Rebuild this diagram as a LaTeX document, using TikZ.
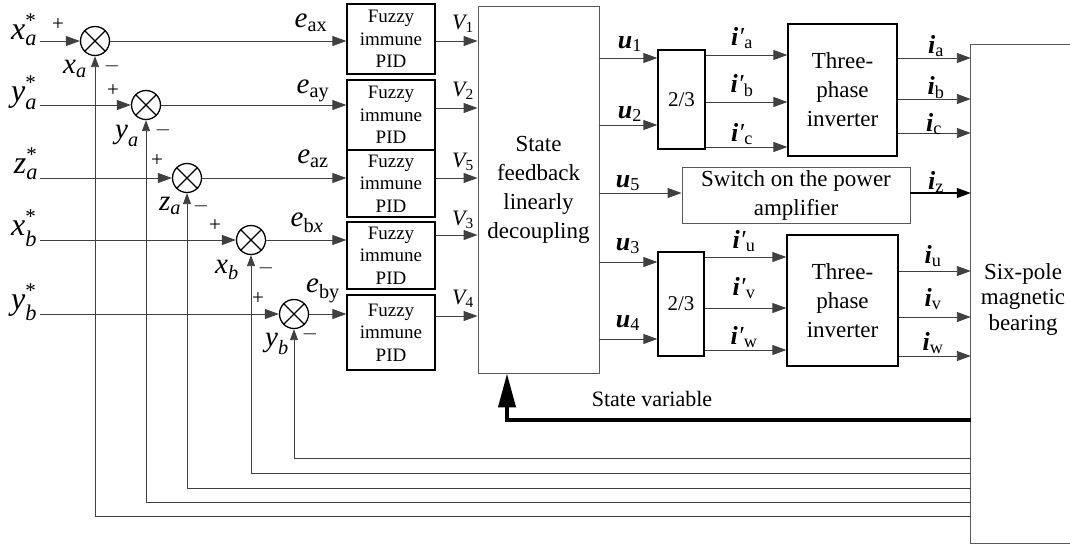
\documentclass[tikz,border=0pt]{standalone}
\usepackage{fontspec}
\usepackage{amsmath}
\setmainfont{Liberation Serif}
\usetikzlibrary{arrows.meta,calc}
\newcommand{\mi}[1]{\textit{#1}}
\newcommand{\bi}[1]{\textbf{\textit{#1}}}
\newcommand{\st}{\raisebox{3pt}{\fontsize{21}{21}\selectfont *}}
\begin{document}
\begin{tikzpicture}[x=1pt,y=-1pt,
  line/.style={draw=black!75, line width=0.9pt},
  arr/.style={line, -{Triangle[length=14pt,width=10pt]}},
  farr/.style={line, -{Triangle[length=11pt,width=8pt]}},
  blk/.style={draw=black, line width=1.3pt, inner sep=0pt, align=center},
  gblk/.style={draw=black!65, line width=0.9pt, inner sep=0pt, align=center},
  fz/.style={blk, minimum width=88pt, font=\fontsize{19}{22.5}\selectfont},
  big/.style={font=\fontsize{23}{29}\selectfont, align=center, inner sep=0pt},
  sumn/.style={circle, draw=black, line width=1.3pt, minimum size=29pt, inner sep=0pt},
  inl/.style={font=\fontsize{32}{32}\selectfont, inner sep=0pt},
  fbl/.style={font=\fontsize{29}{29}\selectfont, inner sep=0pt},
  el/.style={font=\fontsize{29}{29}\selectfont, inner sep=0pt},
  vl/.style={font=\fontsize{22}{22}\selectfont, inner sep=0pt},
  ul/.style={font=\fontsize{26}{26}\selectfont, inner sep=0pt},
  pm/.style={font=\fontsize{21}{21}\selectfont, inner sep=0pt}]
\useasboundingbox (0,0) rectangle (1070,544);

% summing junctions
\node[sumn] (s1) at (95,41) {};
\node[sumn] (s2) at (146,105) {};
\node[sumn] (s3) at (187,178) {};
\node[sumn] (s4) at (251,240) {};
\node[sumn] (s5) at (294,314) {};
\foreach \s in {s1,s2,s3,s4,s5}{
  \draw[line width=1.1pt] (\s.north west) -- (\s.south east) (\s.north east) -- (\s.south west);
}

% input labels and starts
\node[inl] (lx1) at (24,30) {$\mi{x}_{\mi{a}}^{\st}$};
\node[inl] (ly1) at (24,93) {$\mi{y}_{\mi{a}}^{\st}$};
\node[inl] (lz1) at (26,164) {$\mi{z}_{\mi{a}}^{\st}$};
\node[inl] (lx2) at (24,228) {$\mi{x}_{\mi{b}}^{\st}$};
\node[inl] (ly2) at (24,302) {$\mi{y}_{\mi{b}}^{\st}$};
\coordinate (i1) at (40,41);
\coordinate (i2) at (40,105);
\coordinate (i3) at (40,178);
\coordinate (i4) at (40,240);
\coordinate (i5) at (40,314);
\draw[arr] (i1) -- (s1.west);
\draw[arr] (i2) -- (s2.west);
\draw[arr] (i3) -- (s3.west);
\draw[arr] (i4) -- (s4.west);
\draw[arr] (i5) -- (s5.west);

% plus / minus
\node[pm] (p1) at (58,25) {+};
\node[pm] (m1) at (112,66) {$-$};
\node[pm] (p2) at (113,91) {+};
\node[pm] (m2) at (163,130) {$-$};
\node[pm] (p3) at (157,161) {+};
\node[pm] (m3) at (201,206) {$-$};
\node[pm] (p4) at (215,226) {+};
\node[pm] (m4) at (266,268) {$-$};
\node[pm] (p5) at (258,299) {+};
\node[pm] (m5) at (310,334) {$-$};

% feedback labels
\node[fbl] (fx1) at (75,69) {$\mi{x}_{\mi{a}}$};
\node[fbl] (fy1) at (127,136) {$\mi{y}_{\mi{a}}$};
\node[fbl] (fz1) at (170,206) {$\mi{z}_{\mi{a}}$};
\node[fbl] (fx2) at (227,270) {$\mi{x}_{\mi{b}}$};
\node[fbl] (fy2) at (277,344) {$\mi{y}_{\mi{b}}$};

% fuzzy blocks
\node[fz, minimum height=70pt] (F1) at (391,39) {Fuzzy\\immune\\PID};
\node[fz, minimum height=70pt] (F2) at (391,115) {Fuzzy\\immune\\PID};
\node[fz, minimum height=67pt] (F3) at (391,183.5) {Fuzzy\\immune\\PID};
\node[fz, minimum height=67pt] (F4) at (391,255.5) {Fuzzy\\immune\\PID};
\node[fz, minimum height=75pt] (F5) at (391,332.5) {Fuzzy\\immune\\PID};

\draw[arr] (s1.east) -- (s1.east -| F1.west);
\draw[arr] (s2.east) -- (s2.east -| F2.west);
\draw[arr] (s3.east) -- (s3.east -| F3.west);
\draw[arr] (s4.east) -- (s4.east -| F4.west);
\draw[arr] (s5.east) -- (s5.east -| F5.west);

\node[el] (e1) at (311,23) {$\mi{e}_{\text{ax}}$};
\node[el] (e2) at (313,91) {$\mi{e}_{\text{ay}}$};
\node[el] (e3) at (313,159) {$\mi{e}_{\text{az}}$};
\node[el] (e4) at (307,223) {$\mi{e}_{\text{b\mi{x}}}$};
\node[el] (e5) at (323,291) {$\mi{e}_{\text{by}}$};

% state feedback block
\node[gblk, big, minimum width=121pt, minimum height=367pt] (SF) at (538.5,189.5) {State\\feedback\\linearly\\decoupling};

\draw[arr] (F1.east |- 0,41) -- (SF.west |- 0,41);
\draw[arr] (F2.east |- 0,108) -- (SF.west |- 0,108);
\draw[arr] (F3.east |- 0,178) -- (SF.west |- 0,178);
\draw[arr] (F4.east |- 0,235) -- (SF.west |- 0,235);
\draw[arr] (F5.east |- 0,316) -- (SF.west |- 0,316);

\node[vl] (v1) at (463,24) {$\mi{V}_{\text{1}}$};
\node[vl] (v2) at (463,91) {$\mi{V}_{\text{2}}$};
\node[vl] (v5) at (463,162) {$\mi{V}_{\text{5}}$};
\node[vl] (v3) at (463,220) {$\mi{V}_{\text{3}}$};
\node[vl] (v4) at (463,299) {$\mi{V}_{\text{4}}$};

% right side blocks
\node[blk, font=\fontsize{21}{21}\selectfont, minimum width=47pt, minimum height=99pt] (C1) at (681.5,99.5) {2/3};
\node[blk, font=\fontsize{21}{21}\selectfont, minimum width=46pt, minimum height=104pt] (C2) at (681,304) {2/3};
\node[blk, big, minimum width=109pt, minimum height=132pt] (I1) at (842.5,90) {Three-\\phase\\inverter};
\node[blk, big, minimum width=111pt, minimum height=131pt] (I2) at (842.5,300.5) {Three-\\phase\\inverter};
\node[gblk, big, minimum width=228pt, minimum height=56pt] (SW) at (796,195) {Switch on the power\\amplifier};
\node[minimum width=99pt, minimum height=498pt, inner sep=0pt] (MB) at (1020.5,294) {};
\draw[draw=black!65, line width=0.9pt] (MB.north east) -- (MB.north west) -- (MB.south west) -- (MB.south east);
\node[font=\fontsize{23}{25.5}\selectfont, align=center, inner sep=0pt] (MBt) at (1023,299) {Six-pole\\magnetic\\bearing};

% u signals
\draw[arr] (SF.east |- 0,58) -- (C1.west |- 0,58);
\draw[arr] (SF.east |- 0,125) -- (C1.west |- 0,125);
\draw[arr] (SF.east |- 0,193) -- (SW.west |- 0,193);
\draw[arr] (SF.east |- 0,262) -- (C2.west |- 0,262);
\draw[arr] (SF.east |- 0,339) -- (C2.west |- 0,339);
\node[ul] (u1) at (630,44) {$\bi{u}_{\text{1}}$};
\node[ul] (u2) at (630,114) {$\bi{u}_{\text{2}}$};
\node[ul] (u5) at (628,183) {$\bi{u}_{\text{5}}$};
\node[ul] (u3) at (628,246) {$\bi{u}_{\text{3}}$};
\node[ul] (u4) at (628,323) {$\bi{u}_{\text{4}}$};

% i' signals
\draw[arr] (C1.east |- 0,55) -- (I1.west |- 0,55);
\draw[arr] (C1.east |- 0,102) -- (I1.west |- 0,102);
\draw[arr] (C1.east |- 0,147) -- (I1.west |- 0,147);
\draw[arr] (C2.east |- 0,257) -- (I2.west |- 0,257);
\draw[arr] (C2.east |- 0,308) -- (I2.west |- 0,308);
\draw[arr] (C2.east |- 0,350) -- (I2.west |- 0,350);
\node[ul] (ia1) at (742,38) {\bi{i}\mi{′}$_{\text{a}}$};
\node[ul] (ib1) at (742,86) {\bi{i}\mi{′}$_{\text{b}}$};
\node[ul] (ic1) at (742,134) {\bi{i}\mi{′}$_{\text{c}}$};
\node[ul] (iu1) at (744,241) {\bi{i}\mi{′}$_{\text{u}}$};
\node[ul] (iv1) at (744,288) {\bi{i}\mi{′}$_{\text{v}}$};
\node[ul] (iw1) at (744,337) {\bi{i}\mi{′}$_{\text{w}}$};

% i signals
\draw[arr] (I1.east |- 0,58) -- (MB.west |- 0,58);
\draw[arr] (I1.east |- 0,99) -- (MB.west |- 0,99);
\draw[arr] (I1.east |- 0,133) -- (MB.west |- 0,133);
\draw[arr, line width=1.3pt, draw=black] (SW.east |- 0,193) -- (MB.west |- 0,193);
\draw[arr] (I2.east |- 0,271) -- (MB.west |- 0,271);
\draw[arr] (I2.east |- 0,317) -- (MB.west |- 0,317);
\draw[arr] (I2.east |- 0,356) -- (MB.west |- 0,356);
\node[ul] (ia) at (936,46) {$\bi{i}_{\text{a}}$};
\node[ul] (ib) at (936,88) {$\bi{i}_{\text{b}}$};
\node[ul] (ic) at (934,124) {$\bi{i}_{\text{c}}$};
\node[ul] (iz) at (936,182) {$\bi{i}_{\text{z}}$};
\node[ul] (iu) at (933,256) {$\bi{i}_{\text{u}}$};
\node[ul] (iv) at (933,299) {$\bi{i}_{\text{v}}$};
\node[ul] (iw) at (933,343) {$\bi{i}_{\text{w}}$};

% state variable feedback
\draw[draw=black, line width=4pt, -{Triangle[length=34pt,width=17pt]}] (MB.west |- 0,420) -| (SF.south -| 507,0);
\node[font=\fontsize{22}{22}\selectfont, inner sep=0pt] (svl) at (652,399) {State variable};

% position feedback
\draw[farr] (MB.west |- 0,458) -| (s5.south);
\draw[farr] (MB.west |- 0,473) -| (s4.south);
\draw[farr] (MB.west |- 0,488) -| (s3.south);
\draw[farr] (MB.west |- 0,502) -| (s2.south);
\draw[farr] (MB.west |- 0,516) -| (s1.south);
\end{tikzpicture}
\end{document}
